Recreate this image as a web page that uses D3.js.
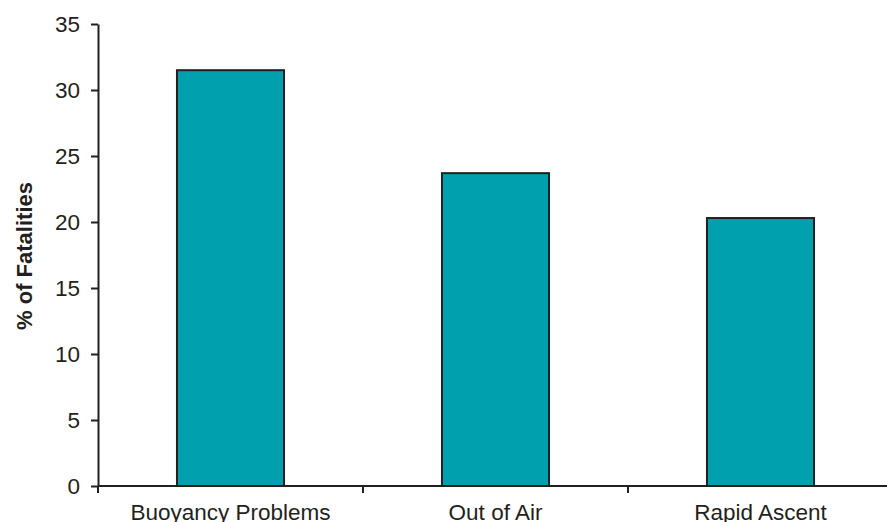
<!DOCTYPE html>
<html>
<head>
<meta charset="utf-8">
<script src="https://cdn.jsdelivr.net/npm/d3@7"></script>
<style>
  html, body { margin: 0; padding: 0; background: #fff; }
  svg { display: block; }
</style>
</head>
<body>
<div id="chart"></div>
<script>
const categories = ["Buoyancy Problems", "Out of Air", "Rapid Ascent"];
const values = [31.5, 23.7, 20.3];
const yTicks = [0, 5, 10, 15, 20, 25, 30, 35];
const yTitle = "% of Fatalities";

const W = 887, H = 522;
const margin = { left: 98, top: 24, right: -6, bottom: 36 };
const ink = "#231f20";
const font = "'Liberation Sans', Arial, sans-serif";
const fs = 22.5;

const svg = d3.select("#chart").append("svg")
  .attr("width", W).attr("height", H);

const x = d3.scaleBand().domain(categories)
  .range([margin.left, W - margin.right]).padding(0);
const y = d3.scaleLinear().domain([0, 35])
  .range([H - margin.bottom, margin.top]);

const barFrac = 0.404;
const bw = x.bandwidth() * barFrac;

svg.append("g").selectAll("rect").data(categories).join("rect")
  .attr("x", d => x(d) + (x.bandwidth() - bw) / 2)
  .attr("y", (d, i) => y(values[i]))
  .attr("width", bw)
  .attr("height", (d, i) => y(0) - y(values[i]))
  .attr("fill", "#00a0ae")
  .attr("stroke", ink)
  .attr("stroke-width", 2);

// Y axis
const yAxis = svg.append("g")
  .attr("transform", `translate(${margin.left},0)`)
  .call(d3.axisLeft(y).tickValues(yTicks).tickSize(7).tickSizeOuter(0).tickPadding(11));
yAxis.select(".domain").attr("stroke", ink).attr("stroke-width", 2);
yAxis.selectAll(".tick line").attr("stroke", ink).attr("stroke-width", 2);
yAxis.selectAll("text").attr("font-family", font).attr("font-size", fs).attr("fill", ink);

// X axis labels
const xAxis = svg.append("g")
  .attr("transform", `translate(0,${y(0)})`)
  .call(d3.axisBottom(x).tickSize(0).tickPadding(18));
xAxis.select(".domain").remove();
xAxis.selectAll("text").attr("font-family", font).attr("font-size", fs).attr("fill", ink);

// X axis line and boundary ticks
svg.append("line")
  .attr("x1", margin.left).attr("x2", W)
  .attr("y1", y(0)).attr("y2", y(0))
  .attr("stroke", ink).attr("stroke-width", 2);
svg.append("g").selectAll("line").data(categories).join("line")
  .attr("x1", d => x(d)).attr("x2", d => x(d))
  .attr("y1", y(0)).attr("y2", y(0) + 7)
  .attr("stroke", ink).attr("stroke-width", 2);

// Y title
svg.append("text")
  .attr("transform", `translate(32,${(y(0) + y(35)) / 2 + 1}) rotate(-90)`)
  .attr("text-anchor", "middle")
  .attr("font-family", font)
  .attr("font-size", 22)
  .attr("font-weight", "bold")
  .attr("fill", ink)
  .text(yTitle);
</script>
</body>
</html>
